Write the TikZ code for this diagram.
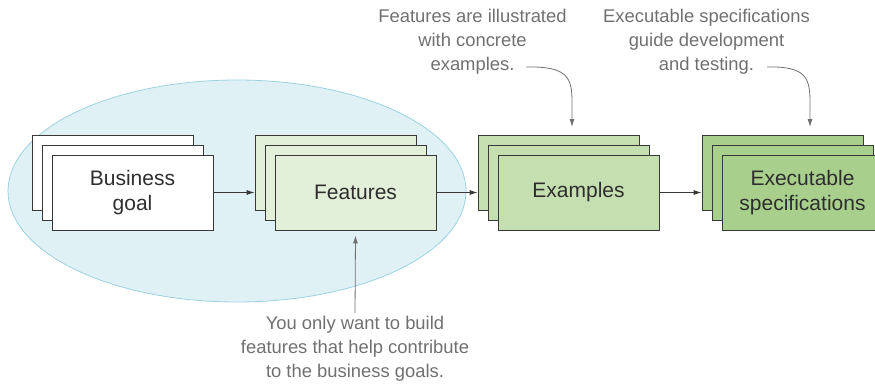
\documentclass[tikz,border=0pt]{standalone}
\usepackage{fontspec}
\setmainfont{Liberation Sans}
\usepackage{xcolor}
\usepackage{tikz}
\usetikzlibrary{positioning,calc,arrows.meta}

\definecolor{linegray}{HTML}{383838}
\definecolor{textdark}{HTML}{2E2E2E}
\definecolor{notegray}{HTML}{707070}
\definecolor{scopefill}{HTML}{E0F1F5}
\definecolor{scopeline}{HTML}{9CD2E0}
\definecolor{featfill}{HTML}{E2EFD9}
\definecolor{exfill}{HTML}{C6DFB1}
\definecolor{specfill}{HTML}{A8D08C}

\begin{document}
\begin{tikzpicture}[x=1pt,y=-1pt,
    card/.style={draw=linegray, line width=0.8pt, minimum width=161pt, minimum height=75pt,
      inner sep=0pt, align=center, text=textdark, font=\fontsize{21}{25}\selectfont},
    note/.style={align=center, text=notegray, font=\fontsize{18.4}{24}\selectfont},
    flow/.style={draw=linegray, line width=0.8pt, -{Latex[length=8pt,width=5pt]}},
    notearrow/.style={draw=notegray, line width=0.8pt, -{Latex[length=8pt,width=5pt]}}]
    \clip (0,0) rectangle (875,384);

    % Scope
    \draw[scopeline, fill=scopefill, line width=0.8pt] (237,191) ellipse (229 and 111);

    % Business goal
    \node[card, fill=white] (goal3) at (112.5,172.5) {};
    \node[card, fill=white] (goal2) at (122.5,182.5) {};
    \node[card, fill=white] (goal) at (132.5,192.5) {Business\\goal};

    % Features
    \node[card, fill=featfill] (feat3) at (335.5,172.5) {};
    \node[card, fill=featfill] (feat2) at (345.5,182.5) {};
    \node[card, fill=featfill] (feat) at (355.5,192.5) {Features};

    % Examples
    \node[card, fill=exfill] (ex3) at (558.5,172.5) {};
    \node[card, fill=exfill] (ex2) at (568.5,182.5) {};
    \node[card, fill=exfill] (ex) at (578.5,192.5) {Examples};

    % Executable specifications
    \node[card, fill=specfill] (spec3) at (782.5,172.5) {};
    \node[card, fill=specfill] (spec2) at (792.5,182.5) {};
    \node[card, fill=specfill] (spec) at (802.5,192.5) {Executable\\specifications};

    % Flow
    \draw[flow] (goal.east) -- (goal.east -| feat3.west);
    \draw[flow] (feat.east) -- (feat.east -| ex3.west);
    \draw[flow] (ex.east) -- (ex.east -| spec3.west);

    % Notes
    \node[note] (note1) at (472.5,42) {Features are illustrated\\with concrete\\examples.};
    \node[note] (note2) at (706.5,42) {Executable specifications\\guide development\\and testing.};
    \node[note] (note3) at (355,349) {You only want to build\\features that help contribute\\to the business goals.};

    \coordinate (c1) at (526,67);
    \coordinate (c2) at (767,67);
    \draw[notearrow] (c1) .. controls (568,66) and (572,78) .. (572,102) -- (572,127);
    \draw[notearrow] (c2) .. controls (806,66) and (810,78) .. (810,102) -- (810,127);
    \draw[notearrow] (note3.north) -- ([yshift=-5pt]feat.south);
\end{tikzpicture}
\end{document}
